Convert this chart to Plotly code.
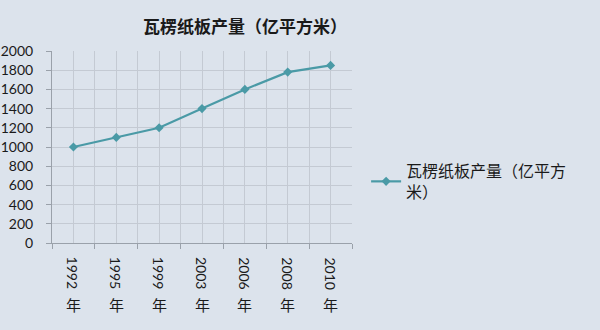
import plotly.graph_objects as go

categories = ["1992", "1995", "1999", "2003", "2006", "2008", "2010"]
values = [1000, 1100, 1200, 1400, 1600, 1780, 1850]
series_name = "瓦楞纸板产量（亿平方<br>米）"
title_text = "瓦楞纸板产量（亿平方米）"
year_suffix = "年"

BG = "#dce3ec"
LINE = "#4a9aa6"
GRID = "#c4cad3"
AXIS = "#9aa1aa"
TXT = "#1a1a1a"

idx = list(range(len(categories)))

fig = go.Figure()
fig.add_trace(go.Scatter(
    x=idx, y=values, mode="lines+markers", name=series_name,
    line=dict(color=LINE, width=2.2),
    marker=dict(symbol="diamond", size=7, color=LINE),
))

annotations = []
for i, c in enumerate(categories):
    annotations.append(dict(x=i, y=0, xref="x", yref="paper", text=c, textangle=90,
                            showarrow=False, yanchor="top", xanchor="center", yshift=-12,
                            font=dict(family="Lato", size=14, color=TXT)))
    annotations.append(dict(x=i, y=0, xref="x", yref="paper", text=year_suffix,
                            showarrow=False, yanchor="top", xanchor="center", yshift=-49,
                            font=dict(family="Noto Sans CJK SC", size=15, color=TXT)))

fig.update_layout(
    width=600, height=330,
    margin=dict(l=52, r=248, t=51, b=87),
    paper_bgcolor=BG, plot_bgcolor=BG,
    title=dict(text=title_text, x=245/600, xanchor="center", y=1 - 27/330, yanchor="middle",
               font=dict(family="Noto Sans CJK SC", size=17, color=TXT, weight="bold")),
    showlegend=True,
    legend=dict(x=1.047, xanchor="left", y=0.32, yanchor="middle",
                bgcolor="rgba(0,0,0,0)",
                font=dict(family="Noto Sans CJK SC", size=16, color=TXT)),
    annotations=annotations,
    xaxis=dict(range=[-0.5, len(categories) - 0.5], tickmode="array",
               tickvals=[i - 0.5 for i in range(len(categories) + 1)],
               showticklabels=False, ticks="outside", ticklen=5, tickcolor=AXIS,
               showgrid=True, gridcolor=GRID, gridwidth=1, automargin=False,
               minor=dict(tickvals=idx, showgrid=True, gridcolor=GRID, gridwidth=1, ticks=""),
               showline=True, linecolor=AXIS, linewidth=1, zeroline=False),
    yaxis=dict(range=[0, 2000], dtick=200, tickmode="linear", tick0=0,
               ticks="outside", ticklen=5, tickcolor=AXIS, ticklabelstandoff=10,
               showgrid=True, gridcolor=GRID, gridwidth=1, automargin=False,
               showline=True, linecolor=AXIS, linewidth=1, zeroline=False,
               tickfont=dict(family="Lato", size=14, color=TXT)),
)

fig.write_html("out.html")
